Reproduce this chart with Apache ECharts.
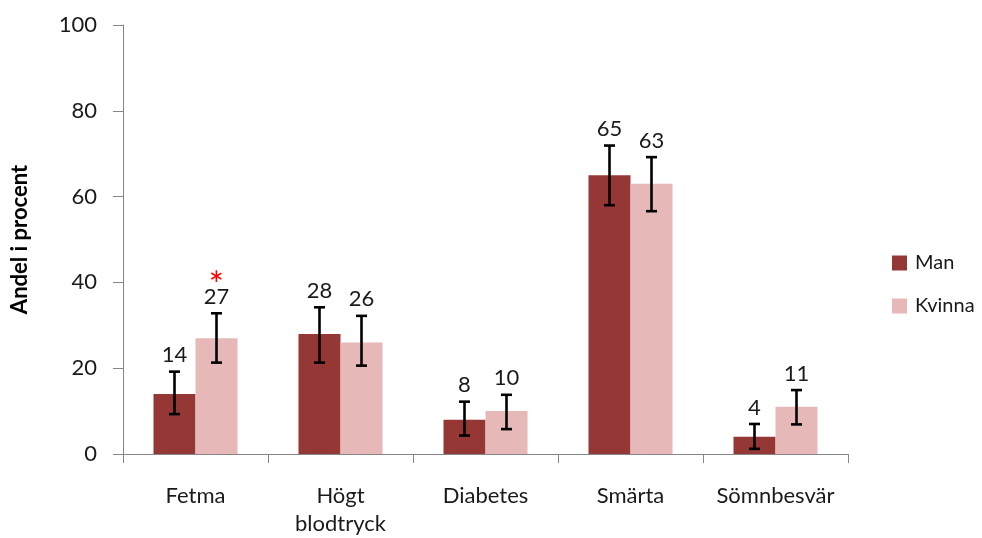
<!DOCTYPE html>
<html><head><meta charset="utf-8">
<script src="https://cdn.jsdelivr.net/npm/echarts@6/dist/echarts.min.js"></script>
<style>html,body{margin:0;padding:0;background:#fff}#c{width:982px;height:538px}</style>
</head><body><div id="c"></div>
<script>
const categories = ['Fetma', 'Högt\nblodtryck', 'Diabetes', 'Smärta', 'Sömnbesvär'];
const manValues = [14, 28, 8, 65, 4];
const manLow = [9.3, 21.3, 4.3, 58.0, 1.2];
const manHigh = [19.2, 34.2, 12.2, 71.9, 7.0];
const kvinnaValues = [27, 26, 10, 63, 11];
const kvinnaLow = [21.3, 20.6, 5.8, 56.6, 6.9];
const kvinnaHigh = [32.8, 32.2, 13.8, 69.2, 14.9];
const kvinnaSignificant = [true, false, false, false, false];
const yTicks = [0, 20, 40, 60, 80, 100];

const FONT = 'Lato';
const BAR_W = 42;

function errSeries(name, values, low, high, side, marks) {
  const data = values.map((v, i) => [i, low[i], high[i], v, marks ? (marks[i] ? 1 : 0) : 0]);
  return {
    type: 'custom',
    name: name + '_err',
    z: 10,
    data: data,
    encode: { x: 0, y: [1, 2] },
    renderItem: function (params, api) {
      const i = api.value(0);
      const lo = api.coord([i, api.value(1)]);
      const hi = api.coord([i, api.value(2)]);
      const x = lo[0] + side * BAR_W / 2;
      const cap = 5.5;
      const st = { stroke: '#000', lineWidth: 2.6 };
      const children = [
        { type: 'line', shape: { x1: x, y1: lo[1], x2: x, y2: hi[1] }, style: st },
        { type: 'line', shape: { x1: x - cap, y1: lo[1], x2: x + cap, y2: lo[1] }, style: st },
        { type: 'line', shape: { x1: x - cap, y1: hi[1], x2: x + cap, y2: hi[1] }, style: st },
        { type: 'text', style: { x: x, y: hi[1] - 5.5, text: String(api.value(3)), textAlign: 'center', textVerticalAlign: 'bottom', font: '22px ' + FONT, fill: '#1a1a1a' } }
      ];
      if (api.value(4)) {
        children.push({ type: 'text', style: { x: x, y: hi[1] - 27, text: '*', textAlign: 'center', textVerticalAlign: 'middle', font: '36px ' + FONT, fill: '#ff0000' } });
      }
      return { type: 'group', children: children };
    }
  };
}

const chart = echarts.init(document.getElementById('c'));
chart.setOption({
  animation: false,
  grid: { left: 123, right: 134, top: 25, bottom: 84, containLabel: false, outerBoundsMode: 'none' },
  legend: {
    data: ['Man', 'Kvinna'],
    orient: 'vertical',
    left: 887, top: 248,
    itemWidth: 15, itemHeight: 15, itemGap: 23,
    icon: 'rect',
    textStyle: { fontFamily: FONT, fontSize: 20, color: '#1a1a1a', padding: [0, 0, 0, 3] }
  },
  xAxis: {
    type: 'category',
    data: categories,
    axisLine: { lineStyle: { color: '#868686', width: 1 } },
    axisTick: { show: true, length: 9, lineStyle: { color: '#868686' } },
    axisLabel: { interval: 0, fontFamily: FONT, fontSize: 22, color: '#1a1a1a', margin: 28, lineHeight: 28 }
  },
  yAxis: {
    type: 'value', min: 0, max: 100, interval: 20,
    name: 'Andel i procent',
    nameLocation: 'middle', nameGap: 92,
    nameTextStyle: { fontFamily: FONT, fontSize: 22, fontWeight: 'bold', color: '#000' },
    axisLine: { show: true, lineStyle: { color: '#868686', width: 1 } },
    axisTick: { show: true, length: 10, lineStyle: { color: '#868686' } },
    splitLine: { show: false },
    axisLabel: { fontFamily: FONT, fontSize: 22, color: '#1a1a1a', margin: 26,
      formatter: v => yTicks.includes(v) ? String(v) : '' }
  },
  series: [
    { name: 'Man', type: 'bar', data: manValues, barWidth: BAR_W, barGap: '0%', itemStyle: { color: '#953735' } },
    { name: 'Kvinna', type: 'bar', data: kvinnaValues, barWidth: BAR_W, barGap: '0%', itemStyle: { color: '#E6B9B8' } },
    errSeries('Man', manValues, manLow, manHigh, -1, null),
    errSeries('Kvinna', kvinnaValues, kvinnaLow, kvinnaHigh, 1, kvinnaSignificant)
  ]
});
</script></body></html>
